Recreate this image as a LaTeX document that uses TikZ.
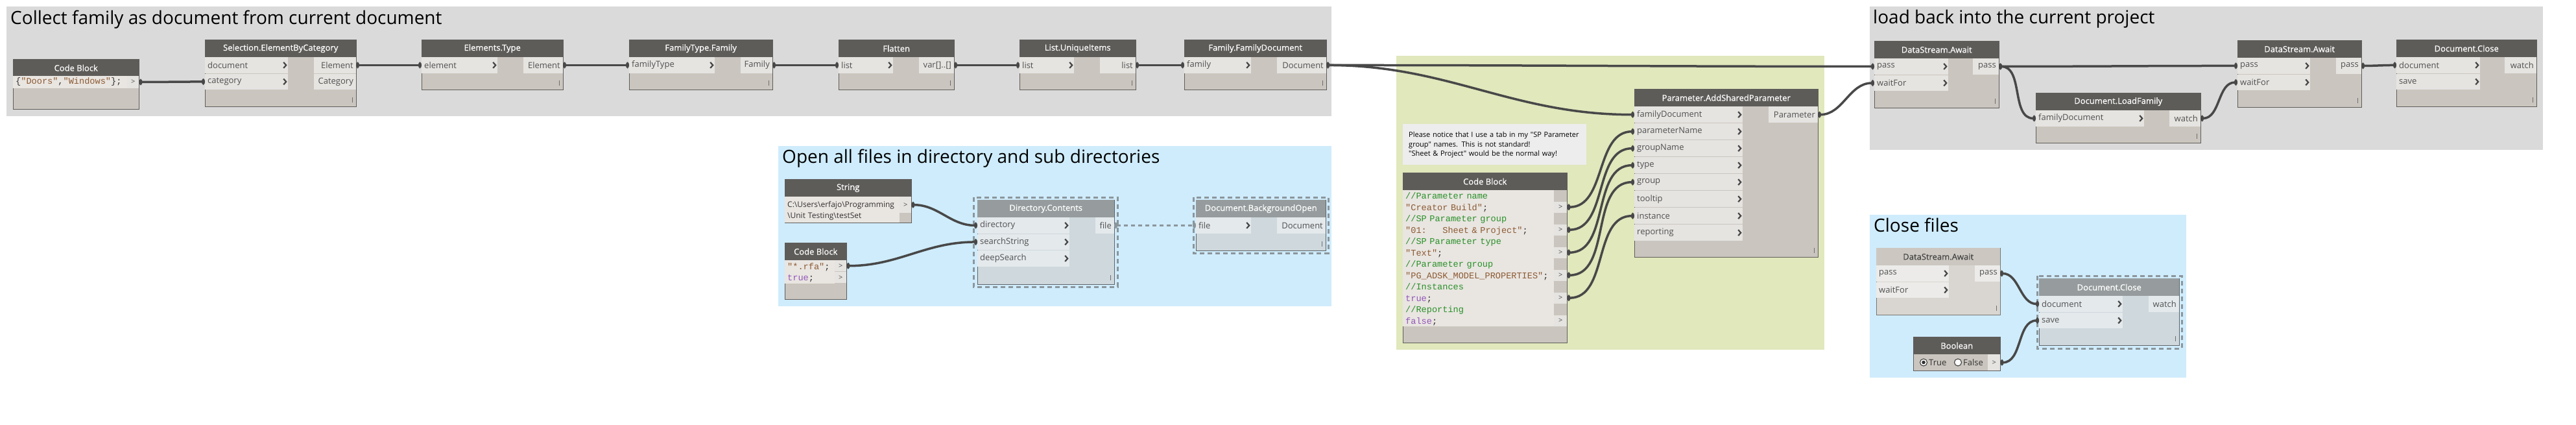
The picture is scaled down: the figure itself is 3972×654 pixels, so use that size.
\documentclass[tikz,border=0pt]{standalone}
\usepackage{fontspec}
\setmainfont{Open Sans}[Ligatures=TeXOff]
\newfontfamily\headfont{Open Sans}[FakeBold=0.6,Ligatures=TeXOff]
\newfontfamily\codefont{Liberation Mono}[Ligatures=TeXOff]
\usepackage{tikz}
\usetikzlibrary{arrows.meta,positioning}
\hyphenpenalty=10000
\exhyphenpenalty=10000

\definecolor{grpgray}{RGB}{218,218,218}
\definecolor{grpblue}{RGB}{207,236,252}
\definecolor{grpgreen}{RGB}{224,232,188}
\definecolor{nodehead}{RGB}{94,92,89}
\definecolor{nodebody}{RGB}{202,197,190}
\definecolor{nodeedge}{RGB}{95,93,90}
\definecolor{portfill}{RGB}{230,228,225}
\definecolor{porttext}{RGB}{80,80,80}
\definecolor{codefill}{RGB}{233,229,225}
\definecolor{codetext}{RGB}{50,50,50}
\definecolor{codestr}{RGB}{140,90,50}
\definecolor{codecmt}{RGB}{40,145,40}
\definecolor{codekw}{RGB}{145,85,185}
\definecolor{chevcol}{RGB}{70,70,70}
\definecolor{lacecol}{RGB}{110,110,110}
\definecolor{wirecol}{RGB}{72,72,72}
\definecolor{selhead}{RGB}{150,156,157}
\definecolor{selbody}{RGB}{206,216,221}
\definecolor{selport}{RGB}{228,233,236}
\definecolor{seledge}{RGB}{95,100,103}
\definecolor{selcol}{RGB}{139,150,156}
\definecolor{lighthead}{RGB}{204,200,193}
\definecolor{lightbody}{RGB}{217,214,209}
\definecolor{lightport}{RGB}{236,235,233}
\definecolor{lightedge}{RGB}{120,118,115}
\definecolor{lighttext}{RGB}{70,70,70}
\definecolor{notefill}{RGB}{237,237,237}

\tikzset{
  grouptitle/.style={anchor=base west, inner sep=0pt, font=\fontsize{28}{32}\selectfont},
  dbody/.style={draw=nodeedge, fill=nodebody, line width=1pt, anchor=north west, inner sep=0pt},
  lace/.style={path picture={\draw[lacecol,line width=1.2pt] ([xshift=-6pt,yshift=7pt]path picture bounding box.south east) -- ++(0pt,8pt);}},
  dhead/.style={fill=nodehead, text=white, font=\headfont\fontsize{13}{15}\selectfont, anchor=north west, inner sep=0pt, minimum height=27pt},
  inport/.style={fill=portfill, text=porttext, font=\fontsize{13}{15}\selectfont, anchor=north west, inner xsep=4pt, inner ysep=0pt, minimum height=24.5pt, align=left, text width=#1,
    path picture={\draw[chevcol,line width=2.2pt] ([xshift=-7pt,yshift=4.5pt]path picture bounding box.east) -- ++(4pt,-4.5pt) -- ++(-4pt,-4.5pt);}},
  outport/.style={fill=portfill, text=porttext, font=\fontsize{13}{15}\selectfont, anchor=north east, inner xsep=4pt, inner ysep=0pt, minimum height=24.5pt, align=right, text width=#1},
  codeline/.style={fill=codefill, text=codetext, anchor=north west, inner xsep=4pt, inner ysep=0pt, align=left, text width=#1, font=\codefont\fontsize{13.6}{17.5}\selectfont, execute at begin node=\strut},
  codeport/.style={fill=portfill, text=porttext, anchor=north west, inner sep=0pt, minimum width=18pt, minimum height=17pt, font=\fontsize{11}{13}\selectfont},
  note/.style={fill=notefill, anchor=north west, inner xsep=9pt, inner ysep=0pt, minimum width=283pt, minimum height=63pt, text width=265pt, align=left, font=\fontsize{11}{14.5}\selectfont, execute at begin node=\strut},
  boollabel/.style={anchor=west, inner sep=0pt, text=codetext, font=\fontsize{13}{15}\selectfont},
  wire/.style={draw=wirecol, line width=3.5pt, {Ellipse[length=5pt,width=9pt]}-{Ellipse[length=5pt,width=9pt]}},
  ghostwire/.style={draw=selcol, line width=3pt, dash pattern=on 6pt off 5pt, {Ellipse[length=5pt,width=9pt]}-{Ellipse[length=5pt,width=9pt]}},
  selbox/.style={draw=selcol, line width=3pt, dash pattern=on 7pt off 5pt}
}

\begin{document}
\begin{tikzpicture}[x=1pt,y=-1pt]
\useasboundingbox (0,0) rectangle (3972,654);
\fill[white] (0,0) rectangle (3972,654);

% groups
\fill[grpgray] (10,10) rectangle (2053,179);
\fill[grpblue] (1200,225) rectangle (2053,472);
\fill[grpgreen] (2153,86) rectangle (2813,539);
\fill[grpgray] (2883,10) rectangle (3921,231);
\fill[grpblue] (2883,331) rectangle (3371,582);
\node[grouptitle] (t-collect) at (16,37) {Collect family as document from current document};
\node[grouptitle] (t-open) at (1206,251) {Open all files in directory and sub directories};
\node[grouptitle] (t-load) at (2888,36) {load back into the current project};
\node[grouptitle] (t-close) at (2889,357) {Close files};

% collect family
\node[dbody, minimum width=194pt, minimum height=77pt] (cb1) at (20,91) {};
\node[dhead, minimum width=194pt] (cb1-h) at (20,91) {Code Block};
\node[codeline=168pt, minimum height=18.5pt] (cb1-c) at (20,117) {\{\textcolor{codestr}{"Doors"},\textcolor{codestr}{"Windows"}\};};
\node[codeport, minimum height=18.5pt] (cb1-p1) at (196,117) {>};

\node[dbody, lace, minimum width=233pt, minimum height=103pt] (sel) at (316,61) {};
\node[dhead, minimum width=233pt] (sel-h) at (316,61) {Selection.ElementByCategory};
\node[inport=120pt] (sel-i1) at (316,88) {document};
\node[inport=120pt] (sel-i2) at (316,113.5) {category};
\node[outport=57pt] (sel-o1) at (549,88) {Element};
\node[outport=57pt] (sel-o2) at (549,113.5) {Category};

\node[dbody, lace, minimum width=218pt, minimum height=77pt] (et) at (650,61) {};
\node[dhead, minimum width=218pt] (et-h) at (650,61) {Elements.Type};
\node[inport=109pt] (et-i1) at (650,88) {element};
\node[outport=53pt] (et-o1) at (868,88) {Element};

\node[dbody, lace, minimum width=221pt, minimum height=77pt] (ftf) at (970,61) {};
\node[dhead, minimum width=221pt] (ftf-h) at (970,61) {FamilyType.Family};
\node[inport=124pt] (ftf-i1) at (970,88) {familyType};
\node[outport=41pt] (ftf-o1) at (1191,88) {Family};

\node[dbody, lace, minimum width=178pt, minimum height=77pt] (fl) at (1293,61) {};
\node[dhead, minimum width=178pt] (fl-h) at (1293,61) {Flatten};
\node[inport=76pt] (fl-i1) at (1293,88) {list};
\node[outport=46pt] (fl-o1) at (1471,88) {var[]..[]};

\node[dbody, lace, minimum width=179pt, minimum height=77pt] (lu) at (1572,61) {};
\node[dhead, minimum width=179pt] (lu-h) at (1572,61) {List.UniqueItems};
\node[inport=76pt] (lu-i1) at (1572,88) {list};
\node[outport=47pt] (lu-o1) at (1751,88) {list};

\node[dbody, lace, minimum width=219pt, minimum height=77pt] (ffd) at (1826,61) {};
\node[dhead, minimum width=219pt] (ffd-h) at (1826,61) {Family.FamilyDocument};
\node[inport=95pt] (ffd-i1) at (1826,88) {family};
\node[outport=68pt] (ffd-o1) at (2045,88) {Document};

% open all files
\node[dbody, minimum width=195pt, minimum height=67pt] (str) at (1210,276) {};
\node[dhead, minimum width=195pt] (str-h) at (1210,276) {String};
\node[codeline=169pt, minimum height=40pt, font=\fontsize{12}{17}\selectfont] (str-t) at (1210,303) {C:\textbackslash Users\textbackslash erfajo\textbackslash Programming\\\textbackslash Unit Testing\textbackslash testSet};
\node[codeport, minimum height=25pt] (str-p1) at (1387,303) {>};

\node[dbody, minimum width=95pt, minimum height=87pt] (cb2) at (1210,374) {};
\node[dhead, minimum width=95pt] (cb2-h) at (1210,374) {Code Block};
\node[codeline=69pt, minimum height=36pt] (cb2-c) at (1210,401) {\textcolor{codestr}{"*.rfa"};\\\textcolor{codekw}{true};};
\node[codeport] (cb2-p1) at (1287,401) {>};
\node[codeport] (cb2-p2) at (1287,419) {>};

\node[dbody, lace, fill=selbody, draw=seledge, minimum width=211pt, minimum height=130pt] (dc) at (1507,308) {};
\node[dhead, fill=selhead, minimum width=211pt] (dc-h) at (1507,308) {Directory.Contents};
\node[inport=134pt, fill=selport] (dc-i1) at (1507,335) {directory};
\node[inport=134pt, fill=selport] (dc-i2) at (1507,360.5) {searchString};
\node[inport=134pt, fill=selport] (dc-i3) at (1507,386) {deepSearch};
\node[outport=21pt, fill=selport] (dc-o1) at (1718,335) {file};
\draw[selbox] (1501,304) rectangle (1723,442);

\node[dbody, lace, fill=selbody, draw=seledge, minimum width=200pt, minimum height=78pt] (dbo) at (1844,308) {};
\node[dhead, fill=selhead, minimum width=200pt] (dbo-h) at (1844,308) {Document.BackgroundOpen};
\node[inport=77pt, fill=selport] (dbo-i1) at (1844,335) {file};
\node[outport=67pt, fill=selport] (dbo-o1) at (2044,335) {Document};
\draw[selbox] (1840,304) rectangle (2048,390);

% shared parameter
\node[note] (nt) at (2163,191) {Please notice that I use a tab in my "SP Parameter\\group" names. This is not standard!\\"Sheet \& Project" would be the normal way!};

\node[dbody, minimum width=253pt, minimum height=262pt] (cb3) at (2163,266) {};
\node[dhead, minimum width=253pt] (cb3-h) at (2163,266) {Code Block};
\node[codeline=225pt, minimum height=210pt] (cb3-c) at (2163,293) {\textcolor{codecmt}{//Parameter name}\\
\textcolor{codestr}{"Creator Build"};\\
\textcolor{codecmt}{//SP Parameter group}\\
\textcolor{codestr}{"01:\hphantom{000}Sheet \& Project"};\\
\textcolor{codecmt}{//SP Parameter type}\\
\textcolor{codestr}{"Text"};\\
\textcolor{codecmt}{//Parameter group}\\
\textcolor{codestr}{"PG\_ADSK\_MODEL\_PROPERTIES"};\\
\textcolor{codecmt}{//Instances}\\
\textcolor{codekw}{true};\\
\textcolor{codecmt}{//Reporting}\\
\textcolor{codekw}{false};};
\foreach \k in {1,...,6}
  \node[codeport, minimum width=20pt] (cb3-p\k) at (2396,{275.5+35*\k}) {>};

\node[dbody, lace, minimum width=283pt, minimum height=259pt] (asp) at (2520,137) {};
\node[dhead, minimum width=283pt] (asp-h) at (2520,137) {Parameter.AddSharedParameter};
\foreach \k/\lbl in {1/familyDocument,2/parameterName,3/groupName,4/type,5/group,6/tooltip,7/instance,8/reporting}
  \node[inport=159pt, minimum height=25pt] (asp-i\k) at (2520,{138+26*\k}) {\lbl};
\node[outport=68pt, minimum height=25pt] (asp-o1) at (2803,164) {Parameter};

% load back
\node[dbody, lace, minimum width=192pt, minimum height=103pt] (aw1) at (2890,63) {};
\node[dhead, minimum width=192pt] (aw1-h) at (2890,63) {DataStream.Await};
\node[inport=106pt] (aw1-i1) at (2890,90) {pass};
\node[inport=106pt] (aw1-i2) at (2890,115.5) {waitFor};
\node[outport=32pt] (aw1-o1) at (3082,90) {pass};

\node[dbody, lace, minimum width=254pt, minimum height=77pt] (dlf) at (3139,143) {};
\node[dhead, minimum width=254pt] (dlf-h) at (3139,143) {Document.LoadFamily};
\node[inport=159pt] (dlf-i1) at (3139,170) {familyDocument};
\node[outport=40pt] (dlf-o1) at (3393,170) {watch};

\node[dbody, lace, minimum width=191pt, minimum height=103pt] (aw2) at (3450,62) {};
\node[dhead, minimum width=191pt] (aw2-h) at (3450,62) {DataStream.Await};
\node[inport=104pt] (aw2-i1) at (3450,89) {pass};
\node[inport=104pt] (aw2-i2) at (3450,114.5) {waitFor};
\node[outport=31pt] (aw2-o1) at (3641,89) {pass};

\node[dbody, lace, minimum width=216pt, minimum height=103pt] (dcl) at (3695,61) {};
\node[dhead, minimum width=216pt] (dcl-h) at (3695,61) {Document.Close};
\node[inport=121pt] (dcl-i1) at (3695,88) {document};
\node[inport=121pt] (dcl-i2) at (3695,113.5) {save};
\node[outport=41pt] (dcl-o1) at (3911,88) {watch};

% close files
\node[dbody, lace, fill=lightbody, draw=lightedge, minimum width=191pt, minimum height=103pt] (aw3) at (2893,382) {};
\node[dhead, fill=lighthead, text=lighttext, minimum width=191pt] (aw3-h) at (2893,382) {DataStream.Await};
\node[inport=104pt, fill=lightport] (aw3-i1) at (2893,409) {pass};
\node[inport=104pt, fill=lightport] (aw3-i2) at (2893,434.5) {waitFor};
\node[outport=31pt, fill=lightport] (aw3-o1) at (3084,409) {pass};

\node[dbody, minimum width=134pt, minimum height=52pt] (bo) at (2950,519) {};
\node[dhead, minimum width=134pt] (bo-h) at (2950,519) {Boolean};
\draw[codetext, fill=white, line width=1pt] (2966,558.5) circle[radius=5.5pt];
\fill[codetext] (2966,558.5) circle[radius=2.8pt];
\node[boollabel] (bo-true) at (2974,558.5) {True};
\draw[codetext, fill=white, line width=1pt] (3019,558.5) circle[radius=5.5pt];
\node[boollabel] (bo-false) at (3027,558.5) {False};
\node[codeport, minimum width=19pt, minimum height=25pt] (bo-p1) at (3065,546) {>};

\node[dbody, lace, fill=selbody, draw=seledge, minimum width=216pt, minimum height=103pt] (dcl2) at (3144,429) {};
\node[dhead, fill=selhead, minimum width=216pt] (dcl2-h) at (3144,429) {Document.Close};
\node[inport=121pt, fill=selport] (dcl2-i1) at (3144,456) {document};
\node[inport=121pt, fill=selport] (dcl2-i2) at (3144,481.5) {save};
\node[outport=39pt, fill=selport] (dcl2-o1) at (3360,456) {watch};
\draw[selbox] (3141,425) rectangle (3364,537);

% wires
\draw[wire] (cb1-p1.east) to[out=0,in=180] (sel-i2.west);
\draw[wire] (sel-o1.east) to[out=0,in=180] (et-i1.west);
\draw[wire] (et-o1.east) to[out=0,in=180] (ftf-i1.west);
\draw[wire] (ftf-o1.east) to[out=0,in=180] (fl-i1.west);
\draw[wire] (fl-o1.east) to[out=0,in=180] (lu-i1.west);
\draw[wire] (lu-o1.east) to[out=0,in=180] (ffd-i1.west);
\draw[wire] (ffd-o1.east) to[out=0,in=180] (aw1-i1.west);
\draw[wire] (ffd-o1.east) to[out=0,in=180] (asp-i1.west);
\draw[wire] (asp-o1.east) to[out=0,in=180] (aw1-i2.west);
\foreach \k/\r in {1/2,2/3,3/4,4/5,5/7}
  \draw[wire] (cb3-p\k.east) to[out=0,in=180] (asp-i\r.west);
\draw[wire] (str-p1.east) to[out=0,in=180] (dc-i1.west);
\draw[wire] (cb2-p1.east) to[out=0,in=180] (dc-i2.west);
\draw[ghostwire] (dc-o1.east) -- (dbo-i1.west);
\draw[wire] (aw1-o1.east) to[out=0,in=180] (aw2-i1.west);
\draw[wire] (aw1-o1.east) to[out=0,in=180] (dlf-i1.west);
\draw[wire] (dlf-o1.east) to[out=0,in=180] (aw2-i2.west);
\draw[wire] (aw2-o1.east) to[out=0,in=180] (dcl-i1.west);
\draw[wire] (aw3-o1.east) to[out=0,in=180] (dcl2-i1.west);
\draw[wire] (bo-p1.east) to[out=0,in=180] (dcl2-i2.west);
\end{tikzpicture}
\end{document}
